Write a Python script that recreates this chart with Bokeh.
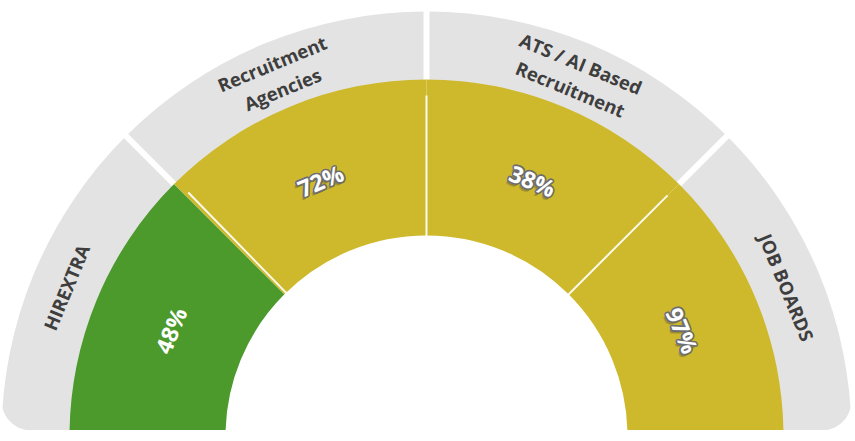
import numpy as np
from bokeh.plotting import figure
from bokeh.models import ColumnDataSource
from bokeh.core.properties import value
from bokeh.embed import file_html
from bokeh.resources import INLINE

# Gauge categories (left to right) and their scores
categories = ["HIREXTRA", "Recruitment\nAgencies", "ATS / AI Based\nRecruitment", "JOB BOARDS"]
scores = [48, 72, 38, 97]
seg_colors = ["#4B9A2B", "#CEB92C", "#CEB92C", "#CEB92C"]

# Geometry (data units == pixels)
R_IN, R_OUT = 201, 357            # coloured ring
R_BAND_IN, R_BAND_OUT = 300, 425  # grey label band
R_TEXT_VAL, R_TEXT_CAT = 277, 390
CORNER = 30

n = len(categories)
span = np.pi / n
starts = [np.pi - (i + 1) * span for i in range(n)]
ends = [np.pi - i * span for i in range(n)]
mids = [(s + e) / 2 for s, e in zip(starts, ends)]

src = ColumnDataSource(dict(
    start=starts, end=ends, color=seg_colors,
    cat=categories, val=[f"{v}%" for v in scores],
    vx=[R_TEXT_VAL * np.cos(m) for m in mids],
    vy=[R_TEXT_VAL * np.sin(m) for m in mids],
    cx=[R_TEXT_CAT * np.cos(m) for m in mids],
    cy=[R_TEXT_CAT * np.sin(m) for m in mids],
    ang=[m - np.pi / 2 for m in mids],
))

p = figure(width=855, height=430, x_range=(-426, 429), y_range=(6, 436),
           output_backend="svg", toolbar_location=None, min_border=0,
           x_axis_type=None, y_axis_type=None)
p.grid.visible = False
p.outline_line_color = None
p.background_fill_color = "white"
p.border_fill_color = "white"

# grey outer band with white gaps between the categories
p.annular_wedge(x=0, y=0, inner_radius=R_BAND_IN, outer_radius=R_BAND_OUT,
                start_angle="start", end_angle="end", fill_color="#E3E3E3",
                line_color=None, source=src)
p.ray(x=0, y=0, length=440, angle=starts[:-1], line_color="white", line_width=6)

# rounded bottom corners of the band
t = np.linspace(np.pi, 1.5 * np.pi, 20)
lx = list(-R_BAND_OUT + CORNER + CORNER * np.cos(t)) + [-R_BAND_OUT + CORNER, -440, -440]
ly = list(6 + CORNER + CORNER * np.sin(t)) + [0, 0, 6 + CORNER]
t2 = np.linspace(1.5 * np.pi, 2 * np.pi, 20)
rx = list(R_BAND_OUT - CORNER + CORNER * np.cos(t2)) + [440, 440, R_BAND_OUT - CORNER]
ry = list(6 + CORNER + CORNER * np.sin(t2)) + [6 + CORNER, 0, 0]
p.patches(xs=[lx, rx], ys=[ly, ry], fill_color="white", line_color=None)

# coloured score ring
p.annular_wedge(x=0, y=0, inner_radius=R_IN, outer_radius=R_OUT,
                start_angle="start", end_angle="end", fill_color="color",
                line_color=None, source=src)
# thin separators inside the ring
sep_angles = [s - 0.012 if i == 0 else s for i, s in enumerate(starts[:-1])]
p.ray(x=0, y=0, length=341, angle=sep_angles, line_color="white", line_width=2,
      line_alpha=0.9)

# category captions in the band
p.text(x="cx", y="cy", text="cat", angle="ang", source=src,
       text_font=value("Open Sans"), text_font_style="bold",
       text_font_size="18.5px", text_color="#3E3E3E",
       text_align="center", text_baseline="middle", text_line_height=1.1)

# score labels
VAL_FONT = dict(text_font=value("Open Sans"), text_font_style="bold",
                text_font_size="23px", text_align="center",
                text_baseline="middle")
first = ColumnDataSource({k: v[:1] for k, v in src.data.items()})
rest = ColumnDataSource({k: v[1:] for k, v in src.data.items()})

p.text(x="vx", y="vy", text="val", angle="ang", source=first,
       text_color="white", **VAL_FONT)

# soft drop shadow
for dx, dy in [(-1.5, 2.5), (-2.5, 3.5)]:
    p.text(x="vx", y="vy", text="val", angle="ang", source=rest,
           text_color="#3a3a3a", text_alpha=0.25, x_offset=dx, y_offset=dy,
           **VAL_FONT)
# grey outline
for a in np.linspace(0, 2 * np.pi, 12, endpoint=False):
    p.text(x="vx", y="vy", text="val", angle="ang", source=rest,
           text_color="#6E6E6E", x_offset=1.6 * np.cos(a),
           y_offset=1.6 * np.sin(a), **VAL_FONT)
p.text(x="vx", y="vy", text="val", angle="ang", source=rest,
       text_color="white", **VAL_FONT)

open("out.html", "w").write(file_html(p, INLINE))
